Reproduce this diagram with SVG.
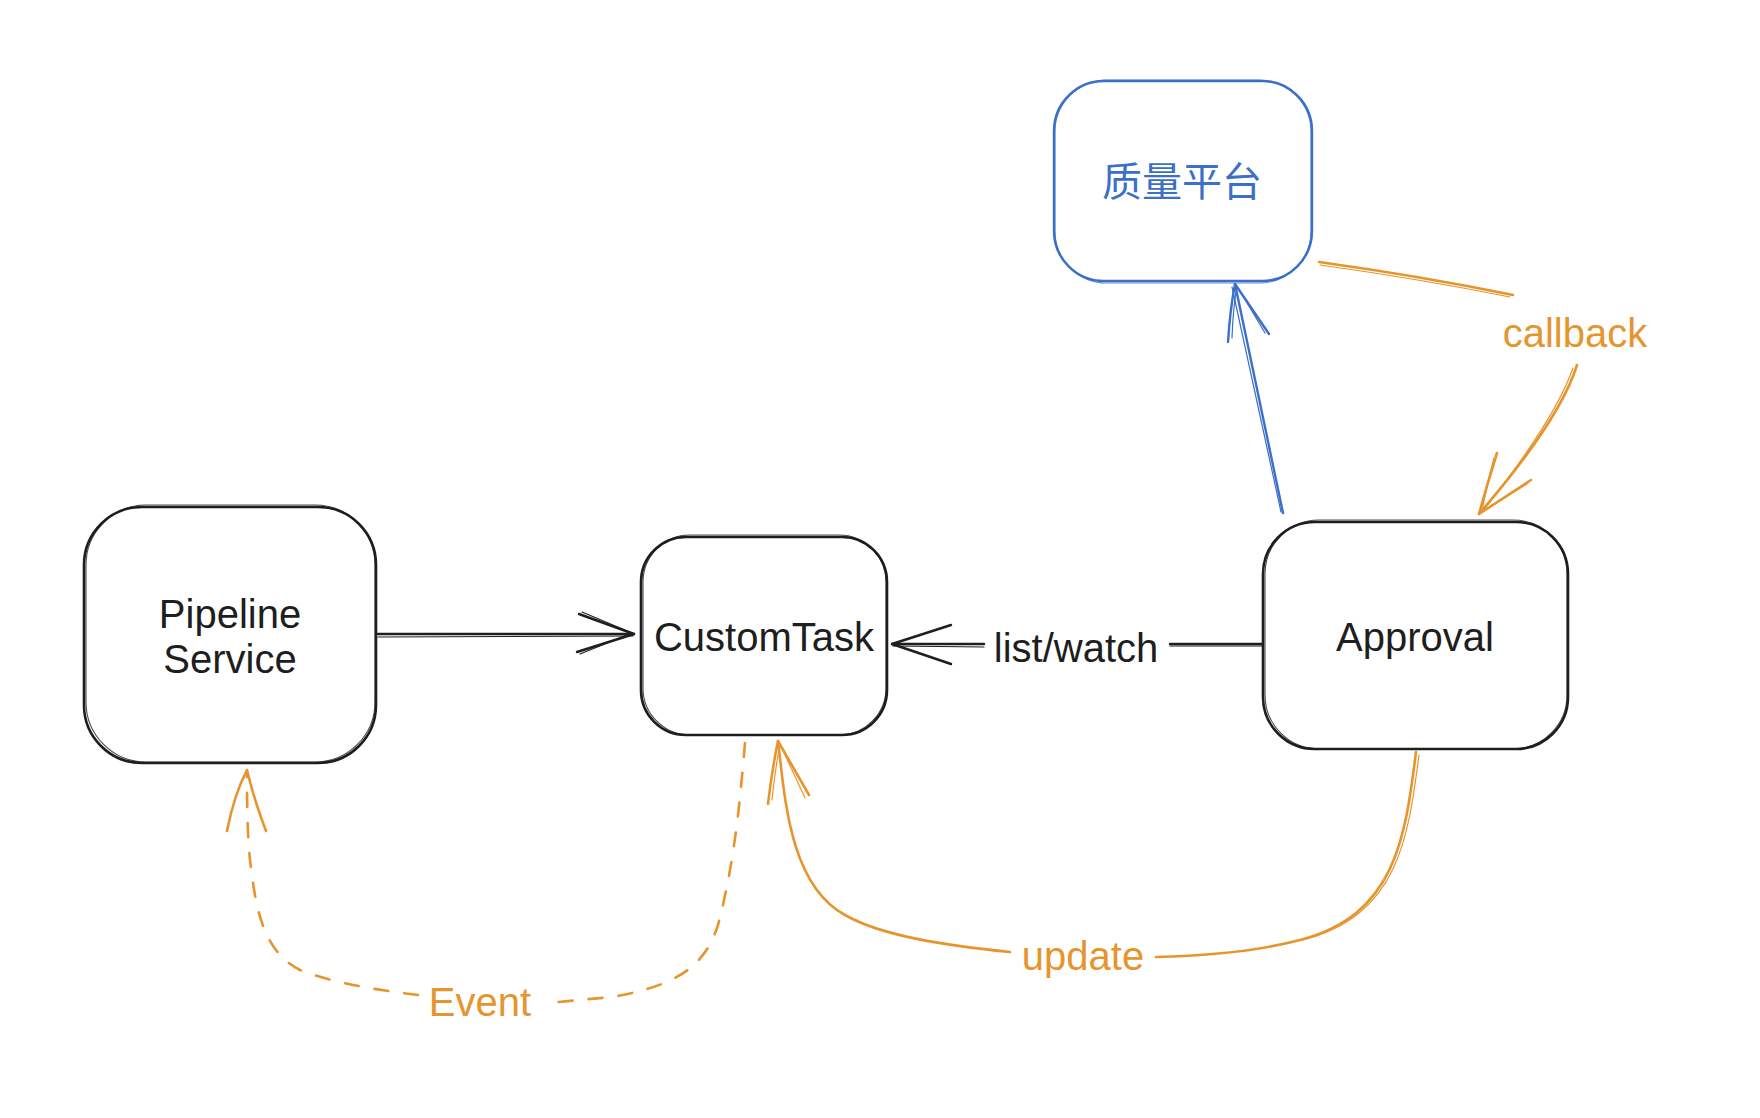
<svg xmlns="http://www.w3.org/2000/svg" width="1760" height="1118" viewBox="0 0 1760 1118">
<style>
.box{fill:#ffffff;stroke:#1e1e1e;stroke-width:2.6}
.box2{fill:none;stroke:#1e1e1e;stroke-width:1.1;opacity:.8}
.bbox{fill:#ffffff;stroke:#3b6fc8;stroke-width:2.4}
.bbox2{fill:none;stroke:#3b6fc8;stroke-width:1.1;opacity:.8}
.t{font-family:"Liberation Sans",Arial,sans-serif;font-size:40px;fill:#1e1e1e;text-anchor:middle}
.tb{fill:#3b6fc8;font-family:"Liberation Sans","Noto Sans CJK SC",sans-serif}
.to{fill:#e6952e}
.k{fill:none;stroke:#1e1e1e;stroke-width:2.4;stroke-linecap:round;stroke-linejoin:round}
.o{fill:none;stroke:#e6952e;stroke-width:2.6;stroke-linecap:round;stroke-linejoin:round}
.od{fill:none;stroke:#e6952e;stroke-width:2.6;stroke-linecap:round;stroke-dasharray:14 16}
.b{fill:none;stroke:#3b6fc8;stroke-width:2.4;stroke-linecap:round;stroke-linejoin:round}
.thin{stroke-width:1.2}
</style>
<rect width="1760" height="1118" fill="#ffffff"/>
<g id="connectors">
  <!-- Pipeline -> CustomTask -->
  <g id="edge-pipeline-customtask">
    <path class="k" d="M378 634 L634 634"/>
    <path class="k thin" d="M378 637 L633 636"/>
    <path class="k" d="M579 614 L634 634 L577 652"/>
    <path class="k thin" d="M582 612 L632 633 L580 654"/>
  </g>
  <!-- Approval -> CustomTask list/watch -->
  <g id="edge-listwatch">
    <path class="k" d="M1263 644 L1170 644"/>
    <path class="k thin" d="M1262 646 L1170 646"/>
    <path class="k" d="M984 644 L892 644"/>
    <path class="k thin" d="M984 647 L893 646"/>
    <path class="k" d="M951 625 L892 644 L951 664"/>
    <text class="t" x="1076" y="662">list/watch</text>
  </g>
  <!-- Approval -> 质量平台 -->
  <g id="edge-approval-quality">
    <path class="b" d="M1283 513 L1235 284"/>
    <path class="b thin" d="M1281 512 L1232 287"/>
    <path class="b" d="M1228 342 Q1230 310 1235 284 L1269 334"/>
    <path class="b thin" d="M1232 338 Q1233 308 1237 286 L1265 333"/>
  </g>
  <!-- callback -->
  <g id="edge-callback">
    <path class="o" d="M1319 262 Q1420 276 1513 295"/>
    <path class="o thin" d="M1320 265 Q1420 279 1510 297"/>
    <path class="o" d="M1577 365 Q1560 420 1479 514"/>
    <path class="o thin" d="M1573 368 Q1555 420 1482 512"/>
    <path class="o" d="M1497 453 Q1487 485 1479 514 L1531 480"/>
    <path class="o thin" d="M1494 458 Q1486 488 1482 512 L1527 484"/>
    <text class="t to" x="1575" y="347">callback</text>
  </g>
  <!-- update -->
  <g id="edge-update">
    <path class="o" d="M1416 752 C1405 840 1395 915 1300 940 C1250 953 1200 956 1156 957"/>
    <path class="o thin" d="M1419 755 C1408 840 1398 915 1303 940"/>
    <path class="o" d="M1010 952 C940 945 880 935 845 915 C790 885 785 800 778 741"/>
    <path class="o" d="M768 804 Q772 770 778 741 L809 795"/>
    <path class="o thin" d="M772 800 Q775 770 780 744 L805 798"/>
    <text class="t to" x="1083" y="970">update</text>
  </g>
  <!-- Event dashed -->
  <g id="edge-event">
    <path class="od" d="M745 743 C740 800 735 860 718 925 C705 965 680 985 612 997 L547 1003"/>
    <path class="od" d="M418 995 C380 990 340 985 300 970 C260 950 255 900 250 860 C247 830 247 800 247 772"/>
    <path class="o" d="M227 831 Q234 795 247 770 Q254 800 266 831"/>
    <text class="t to" x="480" y="1016">Event</text>
  </g>
</g>
<g id="node-pipeline">
  <rect class="box" x="84" y="507" width="292" height="256" rx="58"/>
  <rect class="box2" x="86" y="505" width="289" height="257" rx="60"/>
  <text class="t" x="230" y="628">Pipeline</text>
  <text class="t" x="230" y="673">Service</text>
</g>
<g id="node-customtask">
  <rect class="box" x="641" y="537" width="246" height="198" rx="45"/>
  <rect class="box2" x="643" y="535" width="243" height="200" rx="47"/>
  <text class="t" x="764" y="651">CustomTask</text>
</g>
<g id="node-approval">
  <rect class="box" x="1263" y="522" width="305" height="227" rx="52"/>
  <rect class="box2" x="1265" y="520" width="302" height="229" rx="54"/>
  <text class="t" x="1415" y="651">Approval</text>
</g>
<g id="node-quality">
  <rect class="bbox" x="1054" y="81" width="258" height="200" rx="50"/>
  <rect class="bbox2" x="1055" y="80" width="256" height="203" rx="52"/>
  <text class="t tb" x="1182" y="196">质量平台</text>
</g>
</svg>
